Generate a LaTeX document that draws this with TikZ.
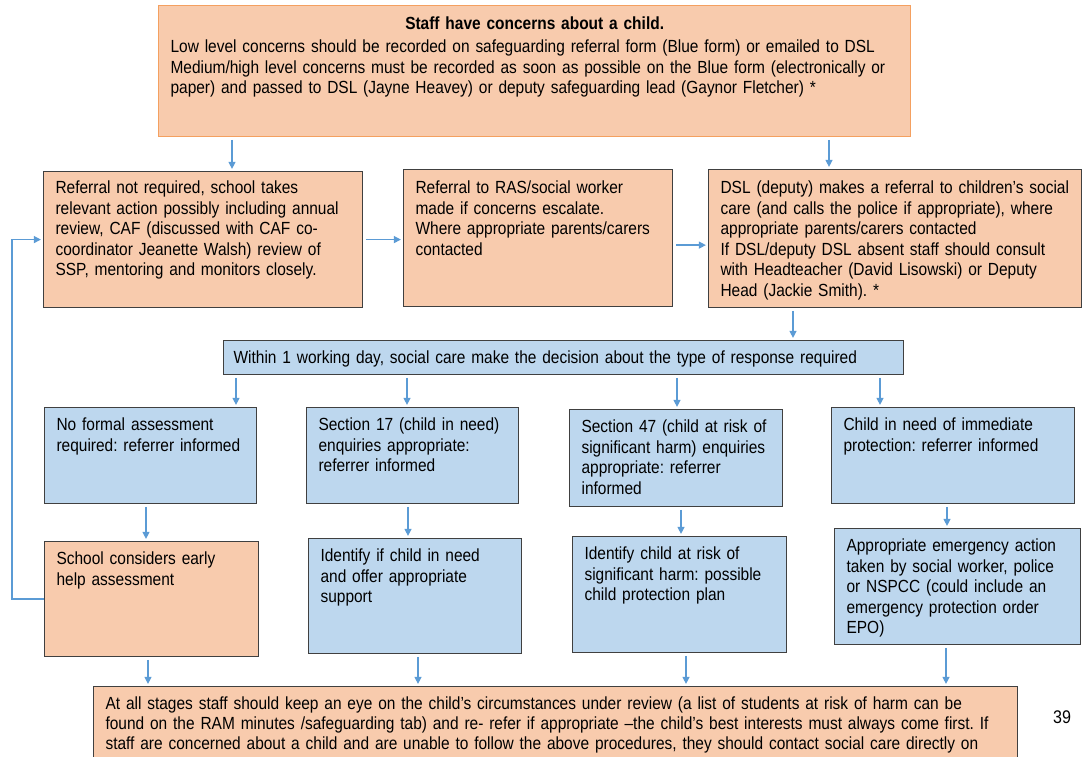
\documentclass[tikz,border=0pt]{standalone}
\usepackage{fontspec}
\setmainfont{Liberation Sans}[FakeStretch=0.88]
\usetikzlibrary{arrows.meta}
\hyphenpenalty=10000
\frenchspacing
\definecolor{orangefill}{HTML}{F8CBAD}
\definecolor{bluefill}{HTML}{BDD7EE}
\definecolor{boxline}{HTML}{404040}
\definecolor{topline}{HTML}{F4A060}
\definecolor{arrowblue}{HTML}{5B9BD5}
\tikzset{
	box/.style={draw=boxline,line width=0.8pt,anchor=north west,align=left,inner xsep=0.3cm,inner ysep=0pt,text height=0.575cm,font=\fontsize{12.5}{14.6}\selectfont},
	obox/.style={box,fill=orangefill},
	bbox/.style={box,fill=bluefill},
	arr/.style={->,arrowblue,line width=0.9pt,shorten <=2pt,shorten >=1.5pt}
}
\begin{document}
\begin{tikzpicture}[x=0.025cm,y=-0.025cm,>={Triangle[length=5pt,width=5pt]}]
	\useasboundingbox (0,0) rectangle (1082,756);
	\clip (0,0) rectangle (1082,756);
	% concerns
	\node[obox,draw=topline,text width=18.2cm,text height=0.6cm,text depth=2.675cm] (top) at (158,5) {{\centering\textbf{Staff have concerns about a child.}\par}\vspace{2pt}Low level concerns should be recorded on safeguarding referral form (Blue form) or emailed to DSL\\ Medium/high level concerns must be recorded as soon as possible on the Blue form (electronically or\\ paper) and passed to DSL (Jayne Heavey) or deputy safeguarding lead (Gaynor Fletcher) *};
	% first row
	\node[obox,text width=7.375cm,text height=0.55cm,text depth=2.85cm] (a) at (43,171) {Referral not required, school takes\\ relevant action possibly including annual\\ review, CAF (discussed with CAF co-\\ coordinator Jeanette Walsh) review of\\ SSP, mentoring and monitors closely.};
	\node[obox,text width=6.125cm,text height=0.6cm,text depth=2.825cm] (b) at (403,169) {Referral to RAS/social worker\\ made if concerns escalate.\\ Where appropriate parents/carers\\ contacted};
	\node[obox,text width=8.725cm,text height=0.6cm,text depth=2.85cm] (c) at (708,169) {DSL (deputy) makes a referral to children’s social\\ care (and calls the police if appropriate), where\\ appropriate parents/carers contacted\\ If DSL/deputy DSL absent staff should consult\\ with Headteacher (David Lisowski) or Deputy\\ Head (Jackie Smith). *};
	% decision
	\node[bbox,inner xsep=0.25cm,text width=16.5cm,text height=0.575cm,text depth=0.275cm] (dec) at (223,340) {Within 1 working day, social care make the decision about the type of response required};
	% second row
	\node[bbox,text width=4.7cm,text depth=1.825cm] (d1) at (44,407) {No formal assessment\\ required: referrer informed};
	\node[bbox,text width=4.7cm,text depth=1.825cm] (d2) at (306,407) {Section 17 (child in need)\\ enquiries appropriate:\\ referrer informed};
	\node[bbox,text width=4.725cm,text depth=1.85cm] (d3) at (569,409) {Section 47 (child at risk of\\ significant harm) enquiries\\ appropriate: referrer\\ informed};
	\node[bbox,text width=5.475cm,text depth=1.825cm] (d4) at (831,407) {Child in need of immediate\\ protection: referrer informed};
	% third row
	\node[obox,text width=4.75cm,text depth=2.3cm] (e1) at (44,541) {School considers early\\ help assessment};
	\node[bbox,text width=4.725cm,text depth=2.3cm] (e2) at (308,538) {Identify if child in need\\ and offer appropriate\\ support};
	\node[bbox,text width=4.75cm,text depth=2.325cm] (e3) at (572,536) {Identify child at risk of\\ significant harm: possible\\ child protection plan};
	\node[bbox,text width=5.55cm,text depth=2.325cm] (e4) at (834,528) {Appropriate emergency action\\ taken by social worker, police\\ or NSPCC (could include an\\ emergency protection order\\ EPO)};
	% review
	\node[obox,text width=22.5cm,text depth=2.5cm,font=\fontsize{12.5}{14.3}\selectfont] (rev) at (93,686) {At all stages staff should keep an eye on the child’s circumstances under review (a list of students at risk of harm can be\\ found on the RAM minutes /safeguarding tab) and re- refer if appropriate –the child’s best interests must always come first. If\\ staff are concerned about a child and are unable to follow the above procedures, they should contact social care directly on};
	\node[font=\fontsize{13}{15}\selectfont] (page) at (1062,717) {39};
	% arrows
	\draw[arr] (232,0 |- top.south) -- (232,0 |- a.north);
	\draw[arr] (829,0 |- top.south) -- (829,0 |- c.north);
	\draw[arr] (a.east) -- (b.west |- a.east);
	\draw[arr] ([yshift=-5pt]b.east) -- ([yshift=-5pt]b.east -| c.west);
	\draw[arr] (793,0 |- c.south) -- (793,0 |- dec.north);
	\draw[arr,shorten <=0pt] (e1.west) -- (12,0 |- e1.west) |- (a.west);
	\foreach \xx/\nd in {236/d1,407/d2,677/d3,880/d4}
	\draw[arr] (\xx,0 |- dec.south) -- (\xx,0 |- \nd.north);
	\foreach \xx/\st/\nd in {146/d1/e1,408/d2/e2,681/d3/e3,947/d4/e4}
	\draw[arr] (\xx,0 |- \st.south) -- (\xx,0 |- \nd.north);
	\foreach \xx/\st in {148/e1,418/e2,686/e3,946/e4}
	\draw[arr] (\xx,0 |- \st.south) -- (\xx,0 |- rev.north);
\end{tikzpicture}
\end{document}
